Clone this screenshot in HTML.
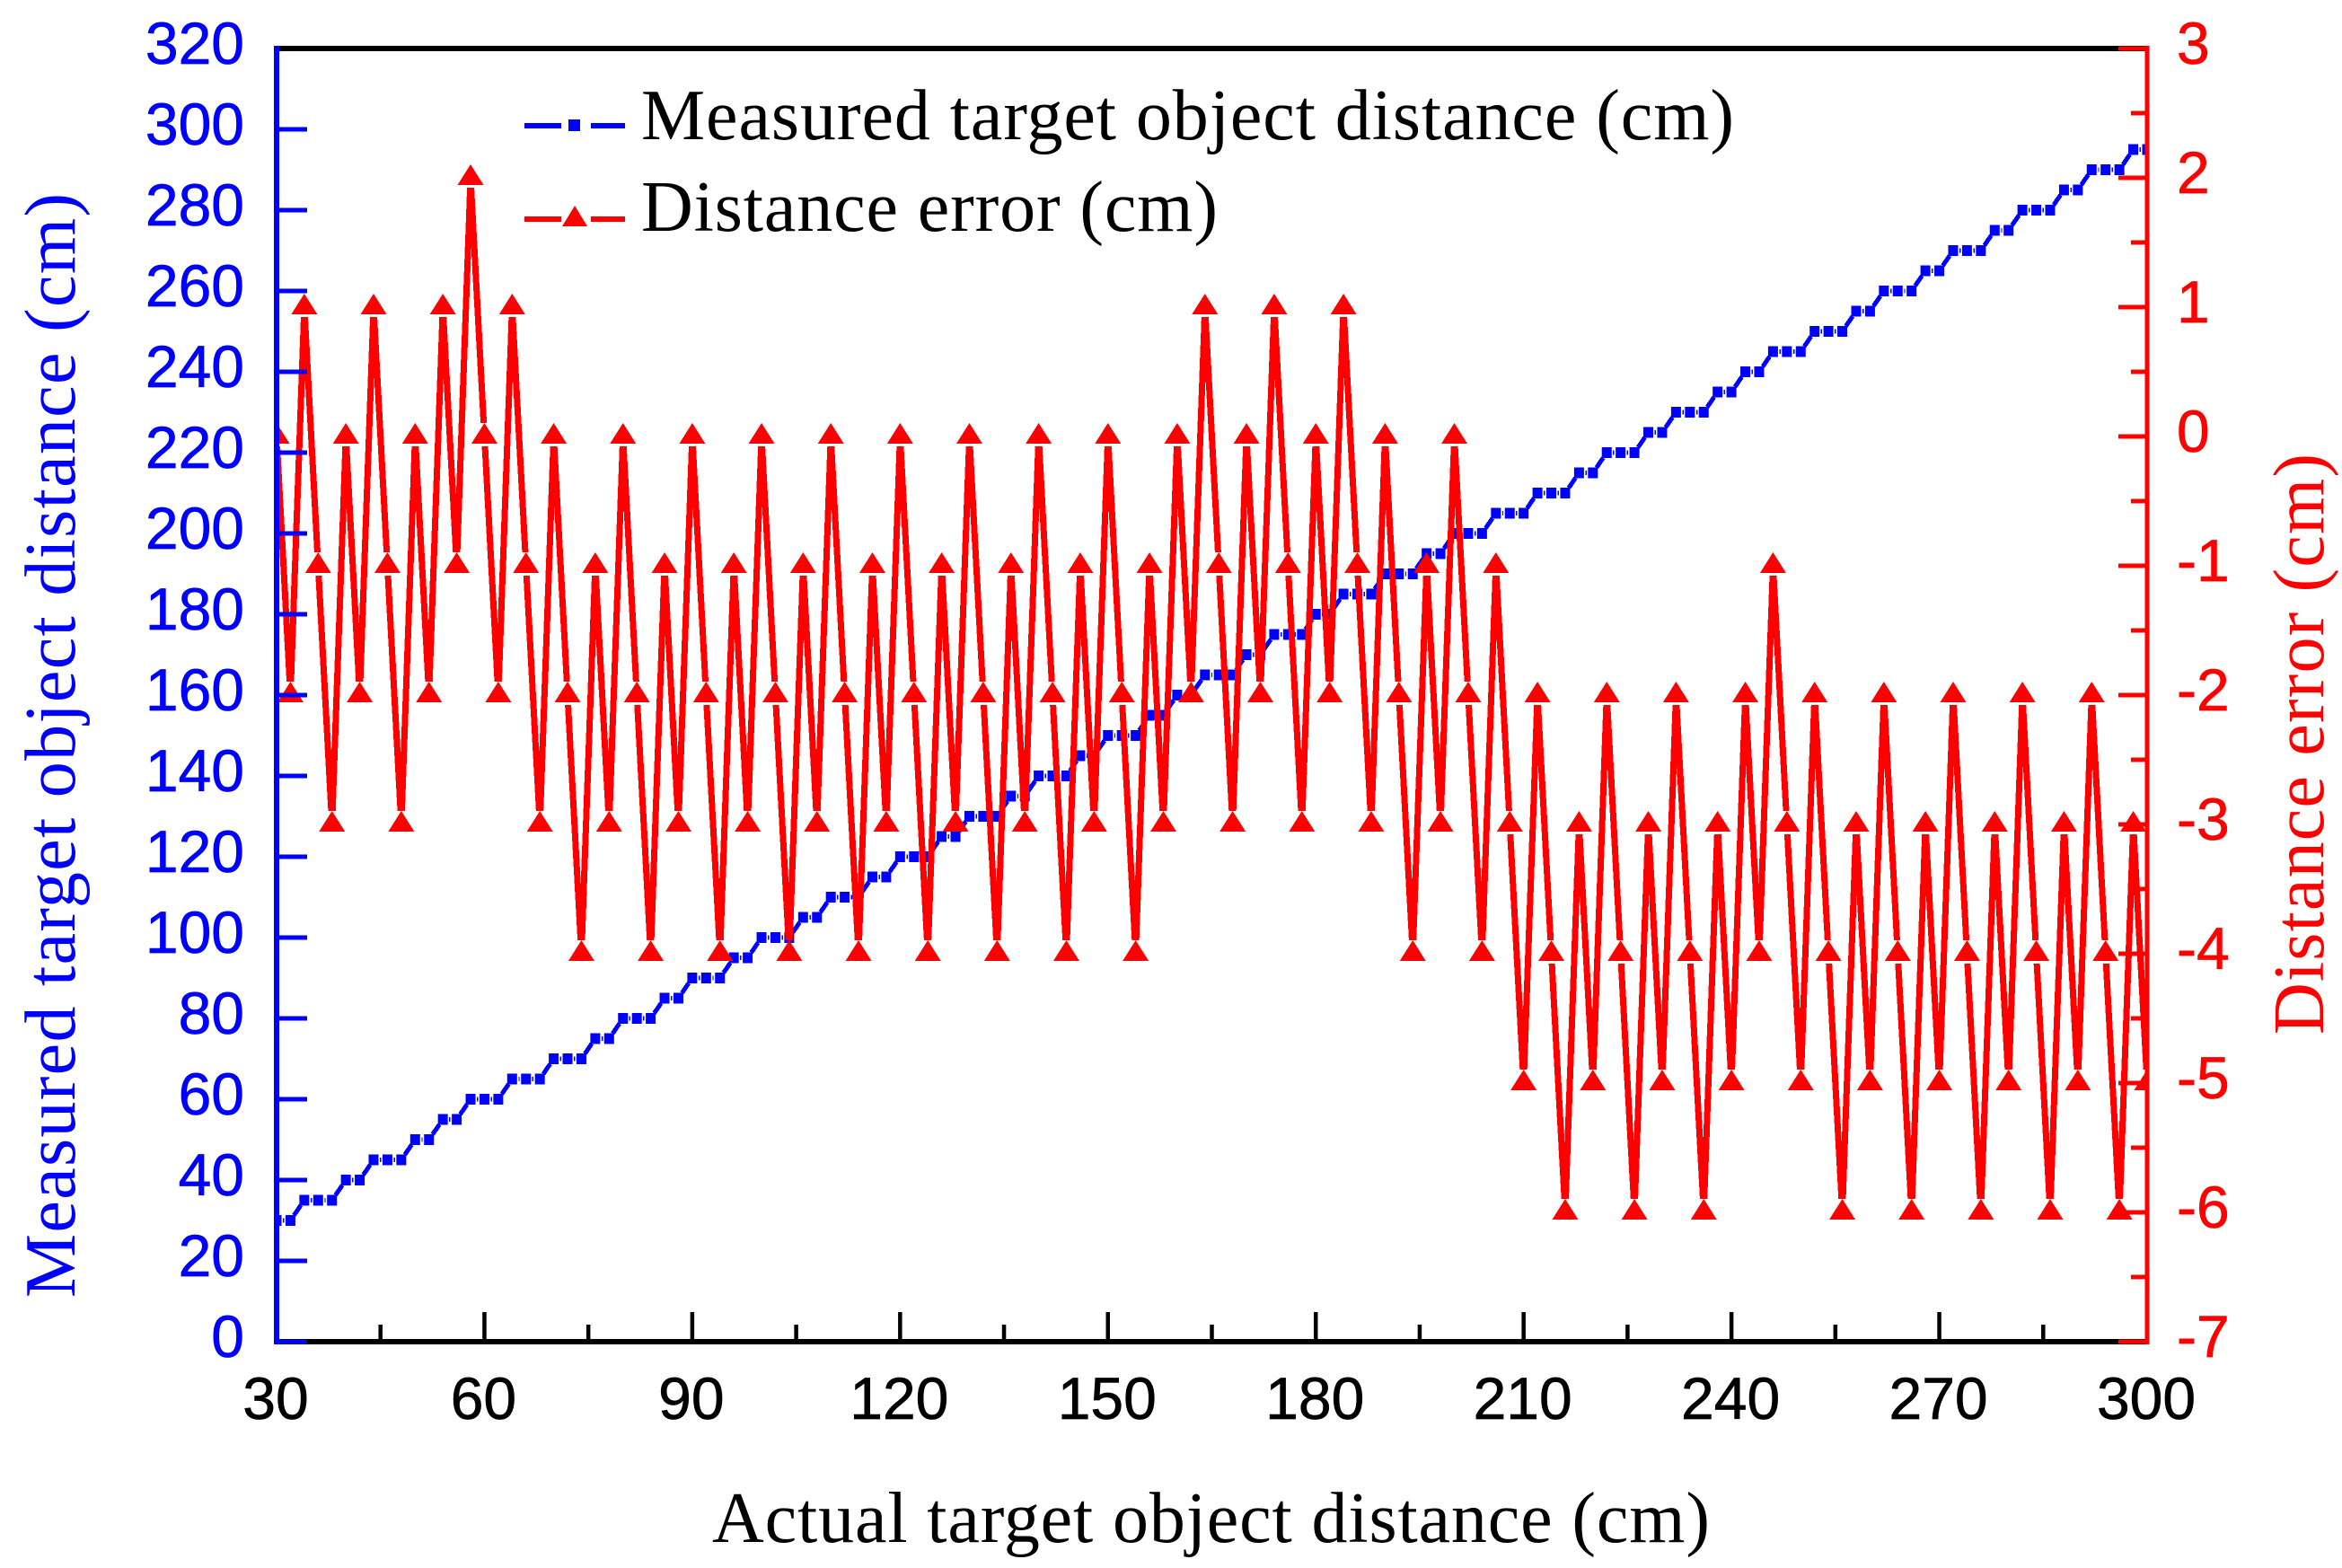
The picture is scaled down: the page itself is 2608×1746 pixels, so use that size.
<!DOCTYPE html>
<html lang="en">
<head>
<meta charset="utf-8">
<title>Measured target object distance and distance error</title>
<style>
html,body{margin:0;padding:0;background:#fff;width:2608px;height:1746px;overflow:hidden}
svg{display:block}
text{font-family:"Liberation Sans",sans-serif}
.serif{font-family:"Liberation Serif",serif;font-size:80px}
</style>
</head>
<body>
<svg id="chart" xmlns="http://www.w3.org/2000/svg" width="2608" height="1746" viewBox="0 0 2608 1746">
<rect x="0" y="0" width="2608" height="1746" fill="#fff"/>
<defs><clipPath id="plot-clip"><rect x="308" y="54" width="2083" height="1440"/></clipPath></defs>
<g id="series-layer" clip-path="url(#plot-clip)"></g>
<g id="axis-layer"></g>
<g>
<g>
<line x1="584" y1="140" x2="625" y2="140" stroke="#0000ff" stroke-width="6"/>
<rect x="633" y="133" width="13" height="13" fill="#0000ff"/>
<line x1="658" y1="140" x2="696" y2="140" stroke="#0000ff" stroke-width="6"/>
<text class="serif" x="714" y="155" fill="#000" textLength="1217" lengthAdjust="spacing">Measured target object distance (cm)</text>
</g>
<g>
<line x1="584" y1="244" x2="625" y2="244" stroke="#ff0000" stroke-width="6"/>
<polygon points="640,229 654,252 626,252" fill="#ff0000"/>
<line x1="658" y1="244" x2="696" y2="244" stroke="#ff0000" stroke-width="6"/>
<text class="serif" x="714" y="257" fill="#000" textLength="642" lengthAdjust="spacing">Distance error (cm)</text>
</g>
</g>
<text class="serif" x="793" y="1717" fill="#000" textLength="1111" lengthAdjust="spacing">Actual target object distance (cm)</text>
<text class="serif" transform="translate(83,1445) rotate(-90)" fill="#0000ff" textLength="1230" lengthAdjust="spacing">Measured target object distance (cm)</text>
<text class="serif" transform="translate(2587,1152) rotate(-90)" fill="#ff0000" textLength="647" lengthAdjust="spacing">Distance error (cm)</text>
</svg>
<script>
const actualDistance = [
30,32,34,36,38, 40,42,44,46,48, 50,52,54,56,58, 60,62,64,66,68, 70,72,74,76,78,
80,82,84,86,88, 90,92,94,96,98, 100,102,104,106,108, 110,112,114,116,118, 120,122,124,126,128,
130,132,134,136,138, 140,142,144,146,148, 150,152,154,156,158, 160,162,164,166,168, 170,172,174,176,178,
180,182,184,186,188, 190,192,194,196,198, 200,202,204,206,208, 210,212,214,216,218, 220,222,224,226,228,
230,232,234,236,238, 240,242,244,246,248, 250,252,254,256,258, 260,262,264,266,268, 270,272,274,276,278,
280,282,284,286,288, 290,292,294,296,298, 300];
const measuredDistance = [
30,30,35,35,35, 40,40,45,45,45, 50,50,55,55,60, 60,60,65,65,65, 70,70,70,75,75,
80,80,80,85,85, 90,90,90,95,95, 100,100,100,105,105, 110,110,110,115,115, 120,120,120,125,125,
130,130,130,135,135, 140,140,140,145,145, 150,150,150,155,155, 160,160,165,165,165, 170,170,175,175,175,
180,180,185,185,185, 190,190,190,195,195, 200,200,200,205,205, 205,210,210,210,215, 215,220,220,220,225,
225,230,230,230,235, 235,240,240,245,245, 245,250,250,250,255, 255,260,260,260,265, 265,270,270,270,275,
275,280,280,280,285, 285,290,290,290,295, 295];
const distanceError = [
0,-2,1,-1,-3, 0,-2,1,-1,-3, 0,-2,1,-1,2, 0,-2,1,-1,-3, 0,-2,-4,-1,-3,
0,-2,-4,-1,-3, 0,-2,-4,-1,-3, 0,-2,-4,-1,-3, 0,-2,-4,-1,-3, 0,-2,-4,-1,-3,
0,-2,-4,-1,-3, 0,-2,-4,-1,-3, 0,-2,-4,-1,-3, 0,-2,1,-1,-3, 0,-2,1,-1,-3,
0,-2,1,-1,-3, 0,-2,-4,-1,-3, 0,-2,-4,-1,-3, -5,-2,-4,-6,-3, -5,-2,-4,-6,-3,
-5,-2,-4,-6,-3, -5,-2,-4,-1,-3, -5,-2,-4,-6,-3, -5,-2,-4,-6,-3, -5,-2,-4,-6,-3,
-5,-2,-4,-6,-3, -5,-2,-4,-6,-3, -5];
const xMajorTicks = [30,60,90,120,150,180,210,240,270,300];
const xMinorTicks = [45,75,105,135,165,195,225,255,285];
const leftTicks = [0,20,40,60,80,100,120,140,160,180,200,220,240,260,280,300,320];
const rightMajorTicks = [3,2,1,0,-1,-2,-3,-4,-5,-6,-7];
const rightMinorTicks = [2.5,1.5,0.5,-0.5,-1.5,-2.5,-3.5,-4.5,-5.5,-6.5];

const NS = 'http://www.w3.org/2000/svg';
const BLUE = '#0000ff', RED = '#ff0000', BLACK = '#000000';
const PLOT = {left: 308, right: 2391, top: 54, bottom: 1494};
const xScale = v => PLOT.left + (v - 30) / 270 * (PLOT.right - PLOT.left);
const yLeft = v => PLOT.bottom - v / 320 * (PLOT.bottom - PLOT.top);
const yRight = v => PLOT.bottom - (v + 7) / 10 * (PLOT.bottom - PLOT.top);
const seriesLayer = document.getElementById('series-layer');
const axisLayer = document.getElementById('axis-layer');

function make(tag, parent, attrs) {
  const el = document.createElementNS(NS, tag);
  Object.keys(attrs).forEach(k => el.setAttribute(k, attrs[k]));
  parent.appendChild(el);
  return el;
}
function axisLine(x1, y1, x2, y2, color, width, name) {
  const el = make('line', axisLayer, {x1, y1, x2, y2, stroke: color, 'stroke-width': width});
  
  
  return el;
}
function tickLabel(x, y, str, color, anchor, name) {
  const el = make('text', axisLayer, {x, y, fill: color, stroke: color, 'stroke-width': 0.7, 'text-anchor': anchor, 'font-size': 66});
  el.textContent = str;
  
  
  return el;
}
/* a segment between two points, trimmed near each symbol */
function trimmedSegment(parent, x1, y1, x2, y2, gapA, gapB, color, width, name) {
  const dx = x2 - x1, dy = y2 - y1, len = Math.hypot(dx, dy);
  if (len <= gapA + gapB) return;
  const el = make('line', parent, {
    x1: x1 + dx * gapA / len, y1: y1 + dy * gapA / len,
    x2: x2 - dx * gapB / len, y2: y2 - dy * gapB / len,
    stroke: color, 'stroke-width': width, 'shape-rendering': 'crispEdges'
  });
  
  
}

/* measured series */
const measuredGroup = make('g', seriesLayer, {});


for (let i = 0; i < actualDistance.length - 1; i++) {
  trimmedSegment(measuredGroup, xScale(actualDistance[i]), yLeft(measuredDistance[i]),
    xScale(actualDistance[i + 1]), yLeft(measuredDistance[i + 1]), 7, 7, BLUE, 5, 'measured-line-segment');
}
actualDistance.forEach((d, i) => {
  const el = make('rect', measuredGroup, {x: xScale(d) - 5.5, y: yLeft(measuredDistance[i]) - 6, width: 11, height: 12, fill: BLUE});
  
  
});

/* error series */
const errorGroup = make('g', seriesLayer, {});


for (let i = 0; i < actualDistance.length - 1; i++) {
  const a = yRight(distanceError[i]), b = yRight(distanceError[i + 1]);
  const down = b > a;
  trimmedSegment(errorGroup, xScale(actualDistance[i]), a, xScale(actualDistance[i + 1]), b,
    down ? 11 : 15, down ? 15 : 11, RED, 7, 'error-line-segment');
}
actualDistance.forEach((d, i) => {
  const px = xScale(d), py = yRight(distanceError[i]);
  const el = make('polygon', errorGroup, {points: `${px},${py - 15} ${px + 14.5},${py + 8} ${px - 14.5},${py + 8}`, fill: RED});
  
  
});

/* x axis and top frame */
axisLine(PLOT.left, PLOT.top, PLOT.right, PLOT.top, BLACK, 6, 'top-axis-line');
axisLine(PLOT.left, PLOT.bottom, PLOT.right, PLOT.bottom, BLACK, 6, 'x-axis-line');
xMajorTicks.forEach(t => {
  if (t !== 30 && t !== 300) axisLine(xScale(t), PLOT.bottom, xScale(t), PLOT.bottom - 33, BLACK, 4.5, 'x-major-tick');
  tickLabel(xScale(t) - 1, PLOT.bottom + 86, String(t), BLACK, 'middle', 'x-tick-label');
});
xMinorTicks.forEach(t => {
  axisLine(xScale(t), PLOT.bottom, xScale(t), PLOT.bottom - 19, BLACK, 4.5, 'x-minor-tick');
});

/* left axis */
axisLine(PLOT.left, PLOT.top - 3, PLOT.left, PLOT.bottom + 3, BLUE, 6, 'left-y-axis-line');
leftTicks.forEach(t => {
  if (t !== 320) axisLine(PLOT.left, yLeft(t), PLOT.left + 34, yLeft(t), BLUE, 5, 'left-y-tick');
  tickLabel(272, yLeft(t) + 17, String(t), BLUE, 'end', 'left-y-tick-label');
});

/* right axis */
axisLine(PLOT.right, PLOT.top - 3, PLOT.right, PLOT.bottom + 3, RED, 5, 'right-y-axis-line');
rightMajorTicks.forEach(t => {
  axisLine(PLOT.right, yRight(t), PLOT.right - 32, yRight(t), RED, 5, 'right-y-major-tick');
  tickLabel(2424, yRight(t) + 17, String(t), RED, 'start', 'right-y-tick-label');
});
rightMinorTicks.forEach(t => {
  axisLine(PLOT.right, yRight(t), PLOT.right - 18, yRight(t), RED, 5, 'right-y-minor-tick');
});
</script>
</body>
</html>
